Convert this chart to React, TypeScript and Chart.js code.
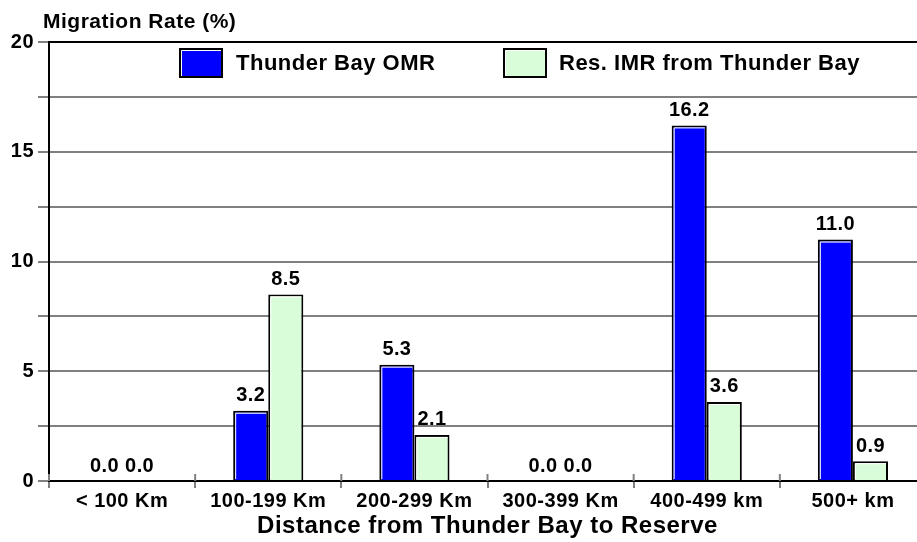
import React, { useEffect, useRef } from "react";
import { Chart, registerables } from "chart.js";

Chart.register(...registerables);

const categories = ["< 100 Km", "100-199 Km", "200-299 Km", "300-399 Km", "400-499 km", "500+ km"];
const omrValues = [0.0, 3.2, 5.3, 0.0, 16.2, 11.0];
const imrValues = [0.0, 8.5, 2.1, 0.0, 3.6, 0.9];
const seriesNames = ["Thunder Bay OMR", "Res. IMR from Thunder Bay"];
const seriesColors = ["#0000ff", "#d9fcd9"];
const yTitle = "Migration Rate (%)";
const xTitle = "Distance from Thunder Bay to Reserve";

const FONT = "'Liberation Sans', Arial, sans-serif";

const spacingPlugin = {
  id: "spacing",
  beforeDraw(chart: any) {
    (chart.ctx as any).letterSpacing = "0.5px";
  },
};

const decorPlugin = {
  id: "decor",
  afterDatasetsDraw(chart: any) {
    const ctx = chart.ctx;
    const area = chart.chartArea;
    ctx.save();
    (ctx as any).letterSpacing = "0.4px";
    // inner highlight on bars and value labels
    chart.data.datasets.forEach((ds: any, di: number) => {
      const meta = chart.getDatasetMeta(di);
      meta.data.forEach((el: any, i: number) => {
        const v = ds.data[i];
        const half = el.width / 2;
        const left = el.x - half;
        if (v > 0) {
          ctx.strokeStyle = "#ffffff";
          ctx.lineWidth = 1;
          ctx.beginPath();
          ctx.moveTo(left + 2.5, el.base - 1);
          ctx.lineTo(left + 2.5, el.y + 2.5);
          ctx.lineTo(el.x + half - 2, el.y + 2.5);
          ctx.stroke();
        }
        ctx.fillStyle = "#000";
        ctx.font = `bold 20px ${FONT}`;
        ctx.textAlign = "center";
        ctx.textBaseline = "bottom";
        ctx.fillText(Number(v).toFixed(1), el.x, el.y - 5);
      });
    });
    // category tick marks crossing the axis (upper part)
    ctx.strokeStyle = "#808080";
    ctx.lineWidth = 2;
    for (let i = 0; i <= categories.length; i++) {
      const px = area.left + (i * (area.right - area.left)) / categories.length;
      ctx.beginPath();
      ctx.moveTo(px, area.bottom - 7);
      ctx.lineTo(px, area.bottom);
      ctx.stroke();
    }
    // legend
    (ctx as any).letterSpacing = "0.5px";
    const items = [
      { x: 179, tx: 236 },
      { x: 503, tx: 559 },
    ];
    items.forEach((it, k) => {
      const bx = it.x;
      const by = area.top + 6;
      const bw = 44;
      const bh = 30;
      ctx.fillStyle = seriesColors[k];
      ctx.fillRect(bx, by, bw, bh);
      ctx.strokeStyle = "#000";
      ctx.lineWidth = 2;
      ctx.strokeRect(bx + 1, by + 1, bw - 2, bh - 2);
      ctx.strokeStyle = "#fff";
      ctx.lineWidth = 1;
      ctx.beginPath();
      ctx.moveTo(bx + 2.5, by + bh - 2);
      ctx.lineTo(bx + 2.5, by + 2.5);
      ctx.lineTo(bx + bw - 2, by + 2.5);
      ctx.stroke();
      ctx.fillStyle = "#000";
      ctx.font = `bold 22px ${FONT}`;
      ctx.textAlign = "left";
      ctx.textBaseline = "middle";
      ctx.fillText(seriesNames[k], it.tx, by + bh / 2 + 1);
    });
    // y title
    ctx.font = `bold 21px ${FONT}`;
    ctx.textAlign = "left";
    ctx.textBaseline = "alphabetic";
    ctx.fillStyle = "#000";
    ctx.fillText(yTitle, 43, 28);
    ctx.restore();
  },
};

export default function App() {
  const ref = useRef<HTMLCanvasElement | null>(null);
  useEffect(() => {
    if (!ref.current) return;
    const chart = new Chart(ref.current, {
      type: "bar",
      data: {
        labels: categories,
        datasets: [
          {
            label: seriesNames[0],
            data: omrValues,
            backgroundColor: seriesColors[0],
            borderColor: "#000",
            borderWidth: 2,
            categoryPercentage: 0.48,
            barPercentage: 1,
          },
          {
            label: seriesNames[1],
            data: imrValues,
            backgroundColor: seriesColors[1],
            borderColor: "#000",
            borderWidth: 2,
            categoryPercentage: 0.48,
            barPercentage: 1,
          },
        ],
      },
      options: {
        animation: false,
        responsive: true,
        maintainAspectRatio: false,
        layout: { padding: { top: 42, left: 0, right: 0, bottom: 0 } },
        plugins: {
          legend: { display: false },
          tooltip: { enabled: false },
          title: { display: false },
        },
        scales: {
          x: {
            afterFit: (s: any) => {
              s.height = 61;
            },
            grid: {
              offset: true,
              drawOnChartArea: false,
              tickLength: 7,
              color: "#808080",
              lineWidth: 2,
            },
            border: { color: "#000", width: 2 },
            ticks: {
              color: "#000",
              font: { family: FONT, size: 20, weight: "bold" },
              padding: 1,
              autoSkip: false,
              maxRotation: 0,
            },
            title: {
              display: true,
              text: xTitle,
              color: "#000",
              font: { family: FONT, size: 24, weight: "bold" },
              padding: { top: 0, bottom: 1 },
            },
          },
          y: {
            min: 0,
            max: 20,
            afterFit: (s: any) => {
              s.width = 49;
            },
            grid: {
              color: (c: any) => (c.tick && c.tick.value === 20 ? "#000" : "#808080"),
              tickColor: "#808080",
              lineWidth: 2,
              tickLength: 11,
            },
            border: { color: "#000", width: 2 },
            ticks: {
              stepSize: 2.5,
              autoSkip: false,
              color: "#000",
              padding: 4,
              font: { family: FONT, size: 20, weight: "bold" },
              callback: (v: any) => (Number(v) % 5 === 0 ? String(v) : ""),
            },
          },
        },
      },
      plugins: [spacingPlugin, decorPlugin],
    });
    return () => chart.destroy();
  }, []);
  return (
    <div
      style={{
        position: "absolute",
        left: 0,
        top: 0,
        width: 917,
        height: 542,
        overflow: "hidden",
        background: "#fff",
      }}
    >
      <div style={{ position: "relative", width: 926, height: 542 }}>
        <canvas ref={ref} />
      </div>
    </div>
  );
}
